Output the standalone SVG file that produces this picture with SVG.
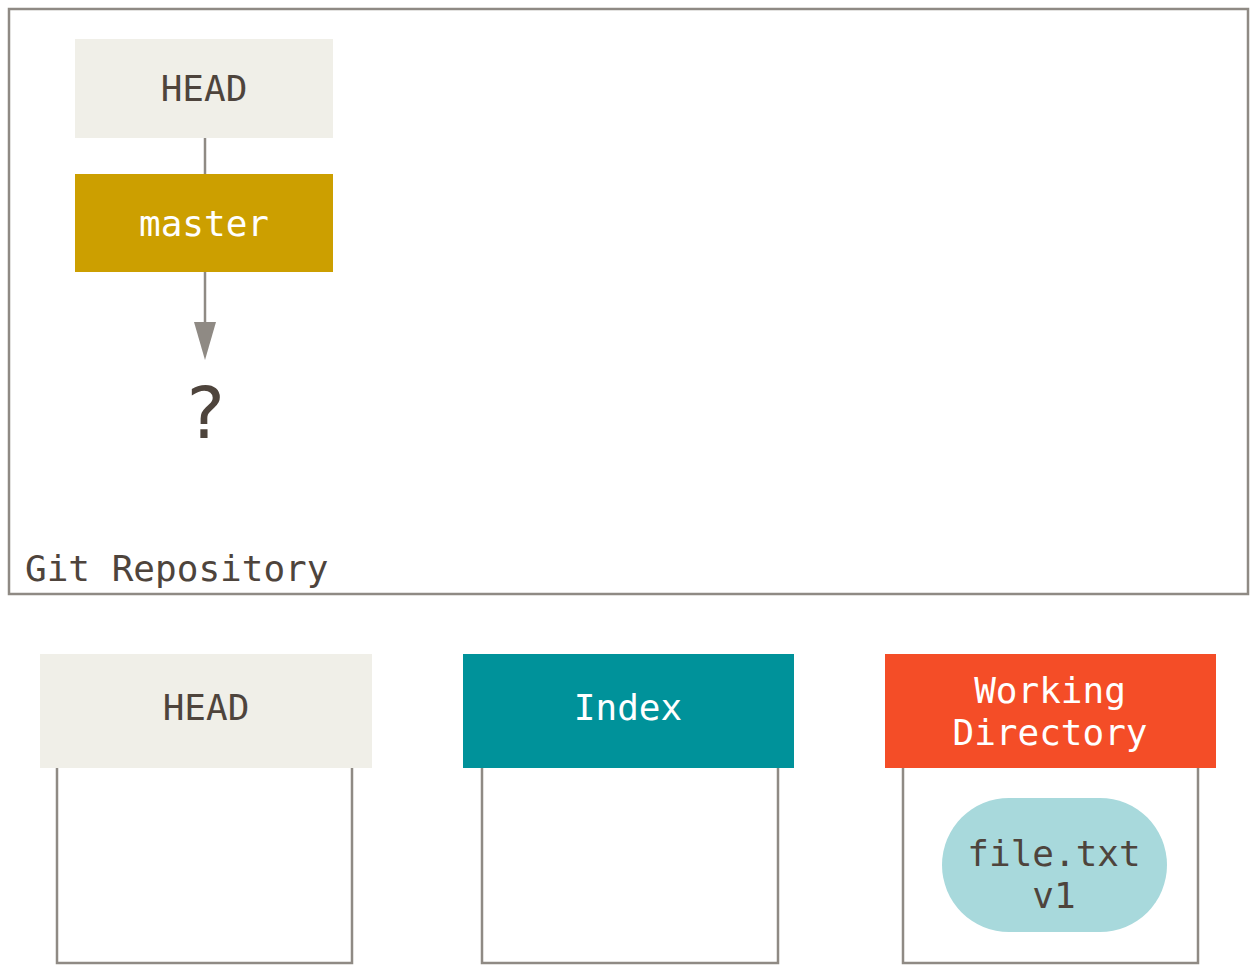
<svg xmlns="http://www.w3.org/2000/svg" width="1259" height="978" viewBox="0 0 1259 978">
<style>
.t{font-family:"DejaVu Sans Mono","Liberation Mono",monospace;font-size:36px;text-anchor:middle}
.dk{fill:#4e443c}
.wh{fill:#ffffff}
.ln{fill:none;stroke:#8f8a84;stroke-width:2.5}
.ah{fill:#8f8a84}
</style>
<g id="repo">
<rect x="9" y="9" width="1239" height="585" class="ln"/>
<text x="25" y="581" class="t dk" style="text-anchor:start">Git Repository</text>
</g>
<g id="connectors">
<line x1="205" y1="138" x2="205" y2="174" class="ln"/>
<line x1="205" y1="272" x2="205" y2="322" class="ln"/>
<path d="M194,322 L216,322 L205,360 Z" class="ah"/>
</g>
<g id="head-ref">
<rect x="75" y="39" width="258" height="99" fill="#f0efe8"/>
<text x="204" y="101" class="t dk">HEAD</text>
</g>
<g id="master">
<rect x="75" y="174" width="258" height="98" fill="#cc9f00"/>
<text x="204" y="236" class="t wh">master</text>
</g>
<g id="unknown">
<text x="205" y="438" class="t dk" style="font-size:72px">?</text>
</g>
<g id="head-tree">
<polyline points="57,768 57,963 352,963 352,768" class="ln"/>
<rect x="40" y="654" width="332" height="114" fill="#f0efe8"/>
<text x="206" y="720" class="t dk">HEAD</text>
</g>
<g id="index-tree">
<polyline points="482,768 482,963 778,963 778,768" class="ln"/>
<rect x="463" y="654" width="331" height="114" fill="#00929a"/>
<text x="628" y="720" class="t wh">Index</text>
</g>
<g id="workdir-tree">
<polyline points="903,768 903,963 1198,963 1198,768" class="ln"/>
<rect x="885" y="654" width="331" height="114" fill="#f44d27"/>
<text x="1050" y="703" class="t wh">Working</text>
<text x="1050" y="745" class="t wh">Directory</text>
</g>
<g id="file-v1">
<rect x="942" y="798" width="225" height="134" rx="67" ry="67" fill="#a8d9dc"/>
<text x="1054" y="866" class="t dk">file.txt</text>
<text x="1054" y="908" class="t dk">v1</text>
</g>
</svg>
